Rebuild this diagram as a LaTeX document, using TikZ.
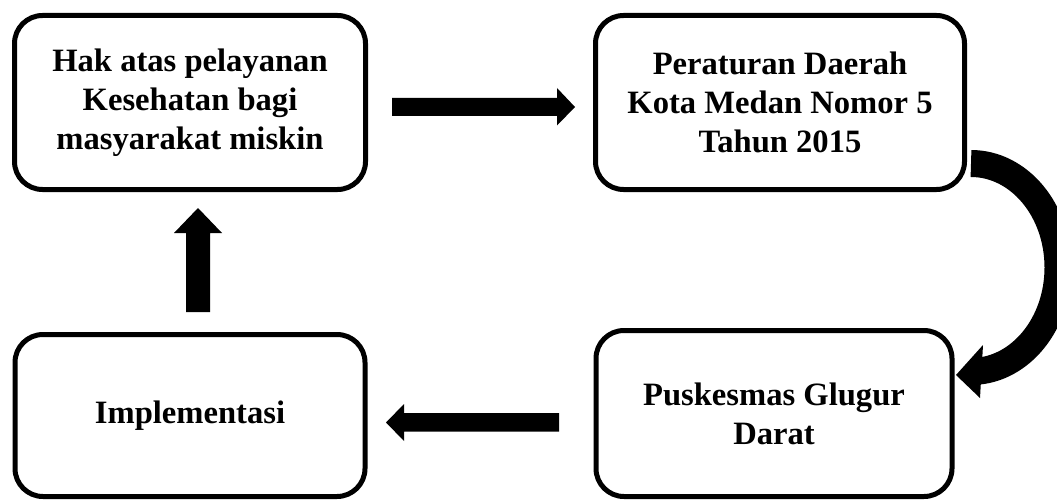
\documentclass[tikz,border=0pt]{standalone}
\usepackage{fontspec}
\setmainfont{Liberation Serif}
\begin{document}
\begin{tikzpicture}[x=1pt,y=1pt,
  box/.style={draw=black, line width=5pt, rounded corners=28pt, inner sep=0pt,
    align=center, font=\bfseries\fontsize{32.6}{39}\selectfont, text=black},
  blockfill/.style={fill=black}]
\clip (0,0) rectangle (1057,499);
\fill[white] (0,0) rectangle (1057,499);
% boxes
\node[box, minimum width=351pt, minimum height=174pt] (hak) at (190,396.5)
  {Hak atas pelayanan\\Kesehatan bagi\\masyarakat miskin};
\node[box, minimum width=369pt, minimum height=174pt] (perda) at (780,396.5)
  {Peraturan Daerah\\Kota Medan Nomor 5\\Tahun 2015};
\node[box, minimum width=350pt, minimum height=162pt] (impl) at (190,83.5)
  {Implementasi};
\node[box, minimum width=356pt, minimum height=166pt] (pusk) at (774,85.5)
  {Puskesmas Glugur\\Darat};
% arrow end points
\coordinate (r1) at (392,392);
\coordinate (r2) at (575,392);
\coordinate (l1) at (559,76.5);
\coordinate (l2) at (386,76.5);
\coordinate (u1) at (198,187);
\coordinate (u2) at (198,291);
\coordinate (c1) at (971,335.5);
\coordinate (c2) at (956,124);
% right arrow
\fill[blockfill] (r1) ++(0,9) -- ++(165,0) -- ++(0,10) -- (r2) -- ++(-18,-18.5) -- ++(0,9.5) -- ++(-165,0) -- cycle;
% left arrow
\fill[blockfill] (l1) ++(0,9.5) -- ++(-155,0) -- ++(0,9) -- (l2) -- ++(18,-18.5) -- ++(0,9.5) -- ++(155,0) -- cycle;
% up arrow
\fill[blockfill] (u1) ++(-12,0) -- ++(0,79) -- ++(-12,0) -- (u2) -- ++(24,-25) -- ++(-12,0) -- ++(0,-79) -- cycle;
% curved arrow
\draw[line width=27pt, black] (c1) arc[start angle=90, end angle=-88, x radius=87, y radius=104];
\fill[blockfill] (c2) -- (983,154) -- (980,101) -- cycle;
\end{tikzpicture}
\end{document}
